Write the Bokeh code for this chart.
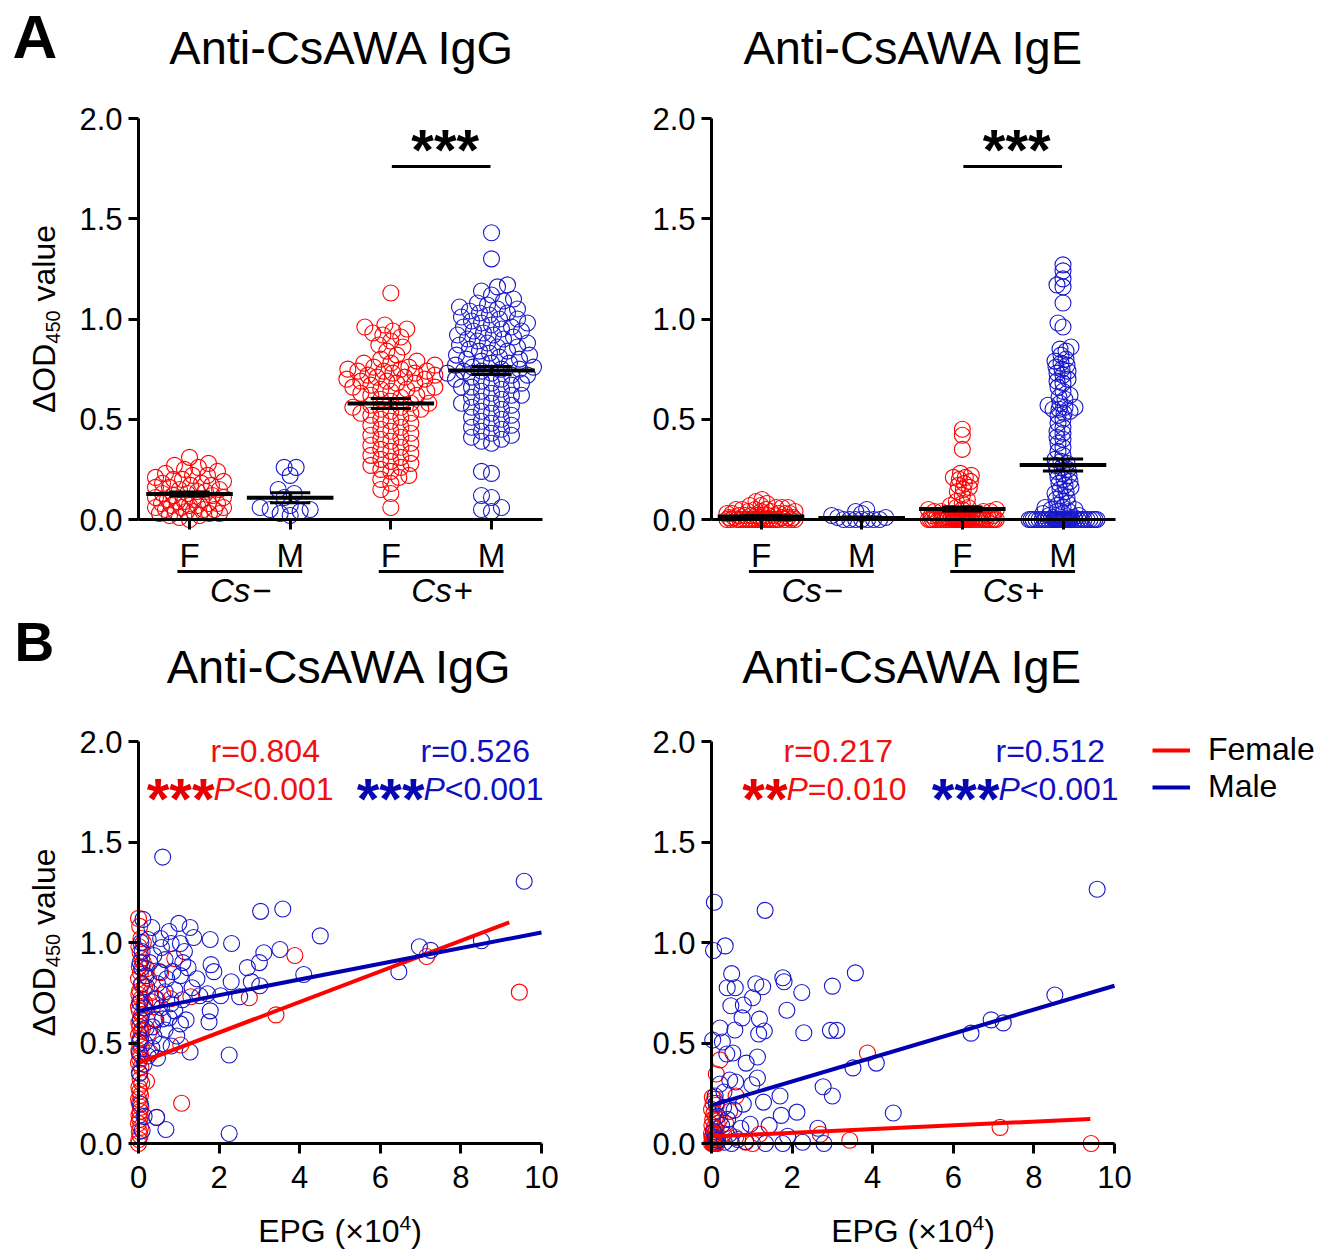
import numpy as np
from bokeh.plotting import figure
from bokeh.models import Range1d, FixedTicker, PrintfTickFormatter, Legend, LegendItem
from bokeh.layouts import row, column
from bokeh.embed import file_html
from bokeh.resources import INLINE
from bokeh.core.properties import value

# ============================ DATA ============================
sex_labels = ["F", "M", "F", "M"]
group_pos = [1, 2, 3, 4]
status_text = ["Cs", "Cs"]
status_sign = ["\u2212", "+"]
titles = ["Anti-CsAWA IgG", "Anti-CsAWA IgE"]

# Panel A, IgG (delta OD450)
igg_csneg_f = [0.31, 0.28, 0.27, 0.26, 0.25, 0.24, 0.23, 0.22, 0.22, 0.21, 0.20, 0.20, 0.19, 0.18,
               0.18, 0.17, 0.17, 0.16, 0.16, 0.15, 0.15, 0.14, 0.14, 0.13, 0.13, 0.12, 0.12, 0.11,
               0.11, 0.10, 0.10, 0.10, 0.09, 0.09, 0.08, 0.08, 0.08, 0.07, 0.07, 0.07, 0.06, 0.06,
               0.06, 0.05, 0.05, 0.05, 0.04, 0.04, 0.04, 0.03, 0.03, 0.03, 0.02, 0.02, 0.01, 0.00]
igg_csneg_m = [0.26, 0.26, 0.22, 0.15, 0.13, 0.11, 0.07, 0.06, 0.05, 0.05, 0.04, 0.03, 0.02]
igg_cspos_f = [1.13, 0.97, 0.96, 0.95, 0.94, 0.93, 0.92, 0.91, 0.89, 0.87, 0.86, 0.84, 0.82, 0.80,
               0.79, 0.78, 0.78, 0.77, 0.76, 0.76, 0.75, 0.75, 0.74, 0.74, 0.74, 0.73, 0.73, 0.72,
               0.72, 0.71, 0.71, 0.70, 0.70, 0.69, 0.69, 0.68, 0.68, 0.67, 0.66, 0.66, 0.65, 0.65,
               0.64, 0.64, 0.63, 0.62, 0.62, 0.61, 0.60, 0.59, 0.58, 0.58, 0.57, 0.56, 0.56, 0.55,
               0.55, 0.54, 0.53, 0.53, 0.52, 0.51, 0.50, 0.49, 0.48, 0.47, 0.46, 0.45, 0.44, 0.43,
               0.42, 0.41, 0.40, 0.39, 0.38, 0.37, 0.36, 0.35, 0.34, 0.33, 0.32, 0.31, 0.30, 0.29,
               0.28, 0.27, 0.26, 0.25, 0.24, 0.22, 0.21, 0.20, 0.18, 0.15, 0.13, 0.06]
igg_cspos_m = [1.43, 1.30, 1.17, 1.16, 1.14, 1.12, 1.10, 1.09, 1.08, 1.07, 1.06, 1.05, 1.05, 1.04,
               1.03, 1.03, 1.02, 1.01, 1.00, 1.00, 0.99, 0.98, 0.98, 0.97, 0.96, 0.96, 0.95, 0.94,
               0.94, 0.93, 0.92, 0.92, 0.91, 0.90, 0.90, 0.89, 0.88, 0.88, 0.87, 0.86, 0.86, 0.85,
               0.84, 0.84, 0.83, 0.82, 0.82, 0.81, 0.80, 0.80, 0.79, 0.78, 0.78, 0.77, 0.76, 0.76,
               0.75, 0.75, 0.74, 0.74, 0.73, 0.73, 0.72, 0.72, 0.71, 0.70, 0.70, 0.69, 0.68, 0.68,
               0.67, 0.66, 0.66, 0.65, 0.64, 0.63, 0.62, 0.62, 0.61, 0.60, 0.59, 0.58, 0.58, 0.57,
               0.56, 0.55, 0.54, 0.53, 0.52, 0.51, 0.50, 0.49, 0.48, 0.47, 0.46, 0.45, 0.44, 0.43,
               0.42, 0.41, 0.40, 0.39, 0.38, 0.24, 0.23, 0.12, 0.11, 0.06, 0.05, 0.04]
igg_mean = [0.127, 0.108, 0.578, 0.743]
igg_sem = [0.010, 0.025, 0.025, 0.020]

# Panel A, IgE (delta OD450)
ige_csneg_f = [0.10, 0.09, 0.08, 0.07, 0.07, 0.06, 0.06, 0.06, 0.05, 0.05, 0.05, 0.05, 0.04, 0.04,
               0.04, 0.04, 0.03, 0.03, 0.03, 0.03, 0.03, 0.02, 0.02, 0.02, 0.02, 0.02, 0.02, 0.01,
               0.01, 0.01, 0.01, 0.01, 0.01, 0.01, 0.00, 0.00, 0.00, 0.00, 0.00, 0.00, 0.00, 0.00,
               0.00, 0.00, 0.00, 0.00, 0.00, 0.00, 0.00, 0.00, 0.00, 0.00, 0.00, 0.00]
ige_csneg_m = [0.05, 0.04, 0.03, 0.02, 0.01, 0.01, 0.00, 0.00, 0.00, 0.00, 0.00, 0.00, 0.00]
ige_cspos_f = [0.45, 0.42, 0.35, 0.23, 0.22, 0.21, 0.21, 0.20, 0.19, 0.18, 0.17, 0.16, 0.15, 0.14,
               0.12, 0.10, 0.09, 0.08, 0.07, 0.06, 0.06, 0.05, 0.05, 0.05, 0.04, 0.04, 0.04, 0.04,
               0.03, 0.03, 0.03, 0.03, 0.03, 0.02, 0.02, 0.02, 0.02, 0.02, 0.02, 0.01, 0.01, 0.01,
               0.01, 0.01, 0.01, 0.01, 0.01, 0.01, 0.01, 0.00, 0.00, 0.00, 0.00, 0.00, 0.00, 0.00,
               0.00, 0.00, 0.00, 0.00, 0.00, 0.00, 0.00, 0.00, 0.00, 0.00, 0.00, 0.00, 0.00, 0.00,
               0.00, 0.00, 0.00, 0.00, 0.00, 0.00, 0.00, 0.00, 0.00, 0.00, 0.00, 0.00, 0.00, 0.00]
ige_cspos_m = [1.27, 1.24, 1.20, 1.17, 1.16, 1.08, 0.98, 0.96, 0.86, 0.85, 0.84, 0.82, 0.80, 0.79,
               0.78, 0.77, 0.76, 0.75, 0.74, 0.73, 0.72, 0.70, 0.69, 0.68, 0.66, 0.64, 0.62, 0.61,
               0.60, 0.58, 0.57, 0.56, 0.56, 0.55, 0.55, 0.54, 0.53, 0.52, 0.50, 0.48, 0.46, 0.44,
               0.43, 0.41, 0.40, 0.38, 0.36, 0.34, 0.32, 0.30, 0.29, 0.28, 0.27, 0.26, 0.25, 0.24,
               0.23, 0.22, 0.21, 0.20, 0.19, 0.18, 0.17, 0.16, 0.15, 0.14, 0.13, 0.12, 0.11, 0.10,
               0.09, 0.08, 0.07, 0.06, 0.06, 0.05, 0.05, 0.04, 0.04, 0.03, 0.03, 0.02, 0.02, 0.01,
               0.01, 0.01, 0.00, 0.00, 0.00, 0.00, 0.00, 0.00, 0.00, 0.00, 0.00, 0.00, 0.00, 0.00,
               0.00, 0.00, 0.00, 0.00, 0.00, 0.00, 0.00, 0.00, 0.00, 0.00, 0.00, 0.00, 0.00, 0.00,
               0.00, 0.00, 0.00, 0.00, 0.00, 0.00, 0.00, 0.00, 0.00, 0.00]
ige_mean = [0.015, 0.008, 0.052, 0.272]
ige_sem = [0.004, 0.004, 0.010, 0.030]

# Panel B, (EPG x10^4, delta OD450) pairs
b_igg_female = [
    (0.00, 1.12), (0.03, 1.08), (0.06, 1.02), (0.01, 0.98), (0.04, 0.95), (0.08, 0.92), (0.02, 0.88),
    (0.05, 0.85), (0.00, 0.82), (0.07, 0.79), (0.03, 0.76), (0.01, 0.74), (0.06, 0.72), (0.04, 0.70),
    (0.00, 0.68), (0.02, 0.66), (0.08, 0.64), (0.05, 0.62), (0.01, 0.60), (0.03, 0.58), (0.06, 0.56),
    (0.00, 0.54), (0.04, 0.52), (0.02, 0.50), (0.07, 0.48), (0.01, 0.46), (0.05, 0.44), (0.03, 0.42),
    (0.00, 0.40), (0.06, 0.38), (0.02, 0.35), (0.04, 0.32), (0.08, 0.30), (0.01, 0.28), (0.03, 0.26),
    (0.05, 0.24), (0.00, 0.22), (0.02, 0.20), (0.06, 0.18), (0.04, 0.16), (0.01, 0.14), (0.03, 0.12),
    (0.00, 0.10), (0.05, 0.08), (0.02, 0.06), (0.04, 0.04), (0.01, 0.02), (0.00, 0.00),
    (0.12, 1.00), (0.20, 0.87), (0.15, 0.78), (0.30, 0.75), (0.45, 0.72), (0.35, 0.68), (0.60, 0.74),
    (0.20, 0.62), (0.25, 0.55), (0.40, 0.62), (0.90, 0.92), (1.05, 0.49), (1.07, 0.20), (0.45, 0.13),
    (0.20, 0.31), (0.30, 0.45), (1.30, 0.73), (0.80, 0.72), (2.75, 0.725), (3.41, 0.64), (3.88, 0.935),
    (7.15, 0.93), (9.45, 0.753), (0.55, 0.85), (0.15, 0.70), (0.10, 0.57), (0.25, 0.82), (0.12, 0.90)]
b_igg_male = [
    (0.60, 1.425), (9.57, 1.305), (3.03, 1.155), (3.58, 1.167), (4.51, 1.033), (8.51, 1.009),
    (6.97, 0.979), (7.25, 0.961), (6.46, 0.855), (4.10, 0.841), (1.78, 1.015), (2.31, 0.995),
    (3.11, 0.949), (3.51, 0.965), (3.00, 0.900), (2.70, 0.875), (1.80, 0.890), (1.87, 0.855),
    (2.30, 0.805), (2.80, 0.805), (3.01, 0.785), (2.51, 0.730), (2.04, 0.735), (1.71, 0.745),
    (1.78, 0.660), (1.75, 0.605), (2.25, 0.440), (2.25, 0.050), (0.68, 0.070), (0.45, 0.130),
    (1.28, 0.455), (1.18, 0.615), (0.95, 0.535), (1.00, 1.095), (1.28, 1.075), (1.37, 1.025),
    (0.76, 1.055), (1.04, 0.995), (0.81, 0.995), (0.57, 0.975), (0.33, 1.075), (0.11, 1.115),
    (0.24, 1.015), (0.38, 0.935), (0.66, 0.915), (1.14, 0.955), (1.23, 0.875), (1.04, 0.835),
    (0.85, 0.855), (0.52, 0.855), (0.47, 0.795), (0.19, 0.835), (0.66, 0.755), (0.90, 0.765),
    (1.33, 0.775), (1.52, 0.735), (1.09, 0.715), (0.81, 0.695), (0.57, 0.675), (0.33, 0.705),
    (0.14, 0.675), (0.43, 0.615), (0.76, 0.625), (1.04, 0.595), (0.66, 0.565), (0.38, 0.535),
    (0.19, 0.575), (0.57, 0.495), (0.81, 0.485), (0.33, 0.475), (0.47, 0.425), (0.24, 0.435),
    (0.14, 0.395), (0.05, 0.515), (0.05, 0.615), (0.08, 0.795), (0.08, 0.875), (0.09, 0.955),
    (0.05, 0.195), (0.09, 0.065), (0.14, 0.135), (0.03, 0.70), (0.02, 0.45), (0.04, 0.90),
    (0.06, 1.00), (0.55, 1.02), (0.70, 0.82), (0.28, 0.90), (0.20, 0.78), (0.42, 0.72),
    (0.60, 0.62), (0.90, 0.66), (1.45, 0.82), (1.10, 0.90), (0.35, 0.58), (0.15, 0.50), (0.03, 0.35)]
b_ige_female = [
    (0.02, 0.23), (0.08, 0.22), (0.04, 0.20), (0.12, 0.19), (0.00, 0.17), (0.06, 0.15), (0.10, 0.13),
    (0.03, 0.12), (0.14, 0.10), (0.01, 0.09), (0.07, 0.08), (0.11, 0.07), (0.05, 0.06), (0.00, 0.05),
    (0.09, 0.05), (0.03, 0.04), (0.13, 0.04), (0.06, 0.03), (0.01, 0.03), (0.10, 0.02), (0.04, 0.02),
    (0.15, 0.02), (0.02, 0.01), (0.08, 0.01), (0.12, 0.01), (0.00, 0.00), (0.05, 0.00), (0.09, 0.00),
    (0.03, 0.00), (0.14, 0.00), (0.07, 0.00), (0.11, 0.00),
    (3.87, 0.45), (0.21, 0.416), (0.12, 0.346), (7.16, 0.08), (9.42, 0.00), (3.43, 0.016),
    (2.70, 0.046), (1.19, 0.046), (1.02, 0.00), (0.85, 0.006), (0.61, 0.236), (0.35, 0.10),
    (0.45, 0.16), (0.60, 0.03), (0.30, 0.05), (0.20, 0.12)]
b_ige_male = [
    (9.57, 1.265), (0.07, 1.20), (1.33, 1.16), (0.34, 0.983), (0.05, 0.96), (3.57, 0.849),
    (0.50, 0.845), (1.77, 0.825), (1.80, 0.805), (1.10, 0.795), (1.27, 0.78), (3.00, 0.783),
    (0.39, 0.775), (0.59, 0.775), (2.24, 0.751), (8.52, 0.739), (1.02, 0.725), (0.48, 0.685),
    (0.79, 0.689), (1.87, 0.663), (0.76, 0.625), (1.19, 0.619), (6.94, 0.615), (7.24, 0.60),
    (0.21, 0.575), (0.58, 0.565), (1.31, 0.56), (1.17, 0.545), (2.29, 0.551), (2.95, 0.563),
    (3.11, 0.563), (6.44, 0.549), (0.03, 0.515), (0.27, 0.505), (0.53, 0.45), (1.14, 0.43),
    (0.38, 0.445), (0.86, 0.40), (4.09, 0.40), (3.51, 0.376), (0.45, 0.316), (0.60, 0.306),
    (1.00, 0.292), (1.14, 0.326), (2.77, 0.282), (3.00, 0.236), (1.70, 0.236), (0.31, 0.256),
    (1.29, 0.206), (0.79, 0.196), (1.73, 0.14), (2.12, 0.156), (4.51, 0.152), (2.64, 0.076),
    (1.43, 0.09), (0.96, 0.096), (0.56, 0.166), (0.15, 0.136), (0.73, 0.076), (0.44, 0.046),
    (1.89, 0.036), (2.26, 0.006), (2.79, 0.00), (1.77, 0.00), (1.34, 0.00), (0.15, 0.016),
    (0.32, 0.006), (0.09, 0.236), (0.21, 0.296), (0.05, 0.06), (0.25, 0.09), (0.40, 0.12),
    (0.65, 0.02), (0.10, 0.03), (0.50, 0.00), (0.85, 0.01), (0.30, 0.18), (0.12, 0.20)]

# regression lines: (x start, x end), (y start, y end)
fit_igg_f = ([0.0, 9.2], [0.40, 1.10])
fit_igg_m = ([0.0, 10.0], [0.66, 1.05])
fit_ige_f = ([0.0, 9.4], [0.035, 0.122])
fit_ige_m = ([0.0, 10.0], [0.19, 0.785])

stats_igg = [("r=0.804", "***", "<0.001"), ("r=0.526", "***", "<0.001")]
stats_ige = [("r=0.217", "**", "=0.010"), ("r=0.512", "***", "<0.001")]
sig_label = "***"
y_ticks = [0.0, 0.5, 1.0, 1.5, 2.0]
epg_ticks = [0, 2, 4, 6, 8, 10]

# ============================ STYLE ============================
FONT = "Liberation Sans"
RED = "#FF0000"
BLUE = "#1818CC"
LINE_BLUE = "#0000B0"
TXT_RED = "#F01010"
TXT_BLUE = "#1010C0"
BASE_SHIFT = 0.38   # measured offset of rendered alphabetic baseline (in em)
ROW_SPLIT = 612     # page y where the two rows meet
PAGE_H = 1251


class Panel:
    """A figure whose frame is the whole canvas; page-pixel <-> data helpers."""

    def __init__(self, ox, oy, W, H, xcal, ycal):
        (pxa, va), (pxb, vb) = xcal
        self.kx = (vb - va) / (pxb - pxa)
        self.x0 = va - pxa * self.kx
        (pya, wa), (pyb, wb) = ycal
        self.ky = (wb - wa) / (pyb - pya)
        self.y0 = wa - pya * self.ky
        self.ppx = 1.0 / abs(self.kx)
        self.ppy = 1.0 / abs(self.ky)
        p = figure(width=W, height=H,
                   x_range=Range1d(self.X(ox), self.X(ox + W)),
                   y_range=Range1d(self.Y(oy + H), self.Y(oy)),
                   output_backend="svg", toolbar_location=None, min_border=0)
        p.outline_line_color = None
        p.grid.visible = False
        p.background_fill_color = "white"
        p.border_fill_color = "white"
        self.p = p

    def X(self, px):
        return self.x0 + px * self.kx

    def Y(self, py):
        return self.y0 + py * self.ky

    def PX(self, xv):
        return (xv - self.x0) / self.kx

    def text(self, px, py, s, size, color="black", align="left", style="normal",
             rotated=False, font=FONT):
        # (px, py) is the desired baseline point in page pixels
        if rotated:
            px = px - BASE_SHIFT * size
        else:
            py = py - BASE_SHIFT * size
        self.p.text(x=[self.X(px)], y=[self.Y(py)], text=[s], text_font=value(font),
                    text_font_size=f"{size}px", text_color=color, text_align=align,
                    text_baseline="alphabetic", text_font_style=style,
                    angle=(np.pi / 2 if rotated else 0.0))


def style_axes(P, yaxis_at, xbounds, xticks, x_label_size, standoff_x, overrides=None):
    p = P.p
    xa, ya = p.xaxis[0], p.yaxis[0]
    ya.fixed_location = yaxis_at
    ya.bounds = (0, 2)
    ya.ticker = FixedTicker(ticks=y_ticks)
    ya.formatter = PrintfTickFormatter(format="%.1f")
    xa.fixed_location = 0
    xa.bounds = xbounds
    xa.ticker = FixedTicker(ticks=xticks)
    if overrides:
        xa.major_label_overrides = overrides
    for ax in (xa, ya):
        ax.axis_line_width = 3
        ax.axis_line_color = "black"
        ax.major_tick_line_width = 3
        ax.major_tick_line_color = "black"
        ax.major_tick_out = 10
        ax.major_tick_in = 0
        ax.minor_tick_line_color = None
        ax.major_label_text_font = FONT
        ax.major_label_text_color = "black"
    ya.major_label_standoff = 6
    xa.major_label_standoff = standoff_x
    ya.major_label_text_font_size = "31px"
    xa.major_label_text_font_size = f"{x_label_size}px"


def swarm(vals, ppy, dmin, maxw):
    """Beeswarm offsets (pixels) for values, nearest-to-centre placement."""
    v = np.asarray(vals, float)
    ys = v * ppy
    order = np.argsort(v, kind="stable")
    cand = np.arange(-maxw, maxw + 0.5, 1.0)
    cand = cand[np.argsort(np.abs(cand), kind="stable")]
    px, py = [], []
    offs = np.zeros(len(v))
    for i in order:
        y = ys[i]
        x = 0.0
        if px:
            ax = np.array(px)
            ay = np.array(py)
            near = np.abs(ay - y) < dmin
            if near.any():
                d = np.sqrt((cand[:, None] - ax[near][None, :]) ** 2 + (y - ay[near][None, :]) ** 2).min(axis=1)
                ok = np.where(d >= dmin)[0]
                x = cand[ok[0]] if len(ok) else cand[np.argmax(d)]
        offs[i] = x
        px.append(x)
        py.append(y)
    return offs


def ylabel(P, base_x, center_y):
    # "ΔOD" + subscript "450" + " value", rotated, reading upward
    w1 = 2.168 * 32
    w2 = 1.668 * 20
    wsp = 0.278 * 32
    w3 = 2.39 * 32
    start = center_y + (w1 + w2 + wsp + w3) / 2
    P.text(base_x, start, "\u0394OD", 32, rotated=True)
    P.text(base_x + 4, start - w1, "450", 20, rotated=True)
    P.text(base_x, start - w1 - w2 - wsp, "value", 32, rotated=True)


def panel_a(ox, W, xcal, data, means, sems, title, axis_px, letter):
    P = Panel(ox, 0, W, ROW_SPLIT, xcal, ((519, 0.0), (118, 2.0)))
    p = P.p
    colors = [RED, BLUE, RED, BLUE]
    if title.endswith("IgE"):
        widths, dmin = [34, 34, 34, 34], 6.0
    else:
        widths, dmin = [34, 34, 44, 46], 10.0
    for c, vals, col, mw in zip(group_pos, data, colors, widths):
        offs = swarm(vals, P.ppy, dmin, mw)
        p.scatter(x=c + offs / P.ppx, y=vals, marker="circle", size=16, fill_alpha=0,
                  line_color=col, line_width=1.1)
    c = np.array(group_pos, float)
    m = np.array(means)
    s = np.array(sems)
    p.segment(x0=c - 0.43, y0=m, x1=c + 0.43, y1=m, line_color="black", line_width=4)
    p.segment(x0=np.r_[c - 0.2, c - 0.2, c], y0=np.r_[m + s, m - s, m - s],
              x1=np.r_[c + 0.2, c + 0.2, c], y1=np.r_[m + s, m - s, m + s],
              line_color="black", line_width=3)
    # significance bar between Cs+ F and Cs+ M
    p.segment(x0=[3.01], y0=[1.76], x1=[3.99], y1=[1.76], line_color="black", line_width=3)
    P.text(P.PX(3.54), 141 + 0.52 * 58, sig_label, 58, style="bold", align="center")
    # group lines and labels
    for gc, txt, sign in zip([1.5, 3.5], status_text, status_sign):
        p.segment(x0=[gc - 0.62], y0=[P.Y(571)], x1=[gc + 0.62], y1=[P.Y(571)],
                  line_color="black", line_width=3)
        cx = P.PX(gc)
        wcs = 1.222 * 33
        wsg = 0.584 * 33
        left = cx - (wcs + wsg) / 2
        P.text(left, 603, txt, 33, style="italic")
        P.text(left + wcs + 2, 603, sign, 33)
    style_axes(P, P.X(axis_px), (P.X(axis_px), P.X(axis_px + 404)),
               group_pos, 33, 7, {k: v for k, v in zip(group_pos, sex_labels)})
    P.text(P.PX(2.52), 65, title, 47, align="center")
    if letter:
        P.text(12, 60, letter, 62, style="bold")
        ylabel(P, 56, 318.5)
    return P


def panel_b(ox, W, axis_px, fem, mal, ffit, mfit, stats, title, letter, texts_x, legend):
    H = PAGE_H - ROW_SPLIT
    P = Panel(ox, ROW_SPLIT, W, H, ((axis_px, 0.0), (axis_px + 403, 10.0)), ((1143, 0.0), (741, 2.0)))
    p = P.p
    fx, fy = zip(*fem)
    mx, my = zip(*mal)
    p.scatter(x=list(fx), y=list(fy), marker="circle", size=16, fill_alpha=0, line_color=RED, line_width=1.1)
    p.scatter(x=list(mx), y=list(my), marker="circle", size=16, fill_alpha=0, line_color=BLUE, line_width=1.1)
    rf = p.line(x=ffit[0], y=ffit[1], line_color=RED, line_width=4)
    rm = p.line(x=mfit[0], y=mfit[1], line_color=LINE_BLUE, line_width=4)
    style_axes(P, 0.0, (0, 10), epg_ticks, 31, 12)
    # correlation annotations
    for (rtxt, stars, ptxt), xs, col, scol in zip(stats, texts_x, [TXT_RED, TXT_BLUE], ["#E80000", "#0808B0"]):
        P.text(xs - 3, 763, rtxt, 32, color=col)
        P.text(xs + 1, 790 + 0.52 * 58, stars, 58, color=scol, style="bold", align="right")
        P.text(xs, 801, "P", 32, color=col, style="italic")
        P.text(xs + 0.667 * 32, 801, ptxt, 32, color=col)
    cx = axis_px + 201.5
    P.text(cx, 684, title, 47, align="center")
    # x-axis title EPG (×10^4)
    w1 = 4.419 * 32
    w2 = 0.556 * 21
    w3 = 0.333 * 32
    left = cx - (w1 + w2 + w3) / 2
    P.text(left, 1243, "EPG (\u00d710", 32)
    P.text(left + w1, 1230, "4", 21)
    P.text(left + w1 + w2, 1243, ")", 32)
    if letter:
        P.text(14, 662, letter, 55, style="bold")
        ylabel(P, 56, 942)
    if legend:
        leg = Legend(items=[LegendItem(label="Female", renderers=[rf]),
                            LegendItem(label="Male", renderers=[rm])],
                     location=(552, 446), glyph_width=38, glyph_height=20, label_standoff=18,
                     label_text_font=FONT, label_text_font_size="32px", label_text_color="black",
                     spacing=-2, padding=0, margin=0, border_line_color=None,
                     background_fill_alpha=0)
        p.add_layout(leg)
    return P


A1 = panel_a(0, 600, ((189, 1.0), (491, 4.0)),
             [igg_csneg_f, igg_csneg_m, igg_cspos_f, igg_cspos_m], igg_mean, igg_sem,
             titles[0], 138, "A")
A2 = panel_a(600, 733, ((760.5, 1.0), (1062.5, 4.0)),
             [ige_csneg_f, ige_csneg_m, ige_cspos_f, ige_cspos_m], ige_mean, ige_sem,
             titles[1], 711, None)
B1 = panel_b(0, 600, 138, b_igg_female, b_igg_male, fit_igg_f, fit_igg_m, stats_igg,
             titles[0], "B", [213, 423], False)
B2 = panel_b(600, 733, 711, b_ige_female, b_ige_male, fit_ige_f, fit_ige_m, stats_ige,
             titles[1], None, [786, 998], True)

layout = column(row(A1.p, A2.p), row(B1.p, B2.p))
open("out.html", "w").write(file_html(layout, INLINE))
